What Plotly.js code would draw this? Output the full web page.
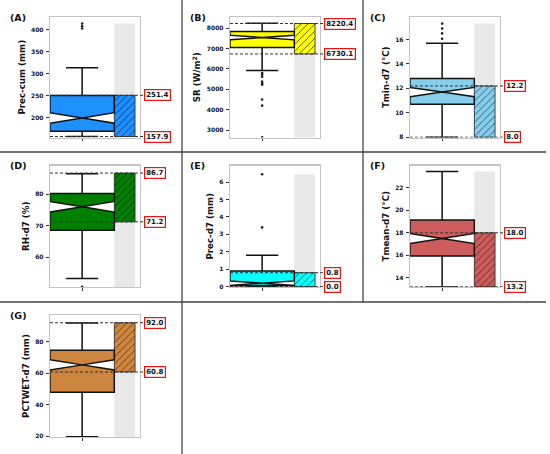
<!DOCTYPE html>
<html>
<head>
<meta charset="utf-8">
<script src="https://cdn.plot.ly/plotly-3.0.1.min.js"></script>
<style>html,body{margin:0;padding:0;background:#fff;}#chart{width:550px;height:454px;}</style>
</head>
<body>
<div id="chart"></div>
<script>
// ---------- data ----------
const panelLabels = ['(A)', '(B)', '(C)', '(D)', '(E)', '(F)', '(G)'];
const yTitles = ['Prec-cum (mm)', 'SR (W/m<sup>2</sup>)', 'Tmin-d7 (°C)', 'RH-d7 (%)', 'Prec-d7 (mm)', 'Tmean-d7 (°C)', 'PCTWET-d7 (mm)'];
const boxColors = ['#1E90FF', '#FFFF00', '#87CEEB', '#008000', '#00FFFF', '#CD5C5C', '#CD853F'];
const q1Vals = [170, 7050, 10.7, 68.5, 0.05, 15.95, 48];
const medianVals = [200, 7535, 11.7, 76, 0.2, 17.5, 65.3];
const q3Vals = [251, 7830, 12.8, 80.2, 0.9, 19.15, 74.5];
const notchSpans = [12, 115, 0.38, 1.7, 0.13, 0.45, 3.2];
const lowerWhiskers = [158, 5915, 8.0, 53.2, 0.0, 13.2, 19.8];
const upperWhiskers = [314, 8230, 15.7, 86.5, 1.8, 23.45, 91.8];
const outliersA = [403, 408, 414];
const outliersB = [5800, 5720, 5620, 5380, 5300, 5220, 4500, 4200, 2650];
const outliersC = [16.06, 16.5, 16.9, 17.3];
const outliersD = [50.6];
const outliersE = [3.4, 6.45];
const outliersF = [];
const outliersG = [];
const thresholdLow = [157.9, 6730.1, 8.0, 71.2, 0.0, 13.2, 60.8];
const thresholdHigh = [251.4, 8220.4, 12.2, 86.7, 0.8, 18.0, 92.0];
const dataMax = [414, 8230, 17.3, 86.7, 6.45, 23.45, 92];
const yMin = [155.7, 2640, 7.98, 50.5, -0.02, 13.19, 19.6];
const yMax = [429, 8540, 17.84, 89.1, 6.95, 23.98, 96.9];
const yDtick = [50, 1000, 2, 10, 1, 2, 20];
const thresholdLabelsLow = ['157.9', '6730.1', '8.0', '71.2', '0.0', '13.2', '60.8'];
const thresholdLabelsHigh = ['251.4', '8220.4', '12.2', '86.7', '0.8', '18.0', '92.0'];

// ---------- layout geometry (pixels) ----------
const W = 550, H = 454;
const cellX = [[50, 140], [230, 320], [410, 500]];
const cellY = [[17, 137.5], [165.5, 287], [315, 437]];
const boxCenter = 0.357, boxWidth = 0.715;
const barCenter = 0.83, barWidth = 0.23;

const allOutliers = [outliersA, outliersB, outliersC, outliersD, outliersE, outliersF, outliersG];
const hatchFg = ['#0a2a66', '#333300', '#1d4a66', '#002a00', '#005a66', '#5a1a1a', '#5a3010'];

const traces = [];
const layout = {
  width: W, height: H,
  margin: {l: 0, r: 0, t: 0, b: 0},
  paper_bgcolor: '#fff', plot_bgcolor: '#fff',
  showlegend: false,
  barmode: 'overlay',
  boxmode: 'overlay',
  font: {family: 'DejaVu Sans', color: '#000'},
  shapes: [], annotations: []
};

for (let i = 0; i < 7; i++) {
  const row = Math.floor(i / 3), col = i % 3;
  const n = i + 1;
  const xa = n === 1 ? 'x' : 'x' + n;
  const ya = n === 1 ? 'y' : 'y' + n;
  const xk = n === 1 ? 'xaxis' : 'xaxis' + n;
  const yk = n === 1 ? 'yaxis' : 'yaxis' + n;
  const px = cellX[col], py = cellY[row];

  // grey background bar (axis bottom to data max)
  traces.push({
    type: 'bar', x: [barCenter], y: [dataMax[i] - yMin[i]], base: [yMin[i]], width: [barWidth],
    xaxis: xa, yaxis: ya, marker: {color: '#e8e8e8', line: {width: 0}}, hoverinfo: 'skip'
  });
  // hatched threshold bar
  traces.push({
    type: 'bar', x: [barCenter], y: [thresholdHigh[i] - thresholdLow[i]], base: [thresholdLow[i]], width: [barWidth],
    xaxis: xa, yaxis: ya,
    marker: {color: boxColors[i], line: {color: '#222', width: 0.8},
      pattern: {shape: '/', fgcolor: hatchFg[i], bgcolor: boxColors[i], size: 5, solidity: 0.16}},
    hoverinfo: 'skip'
  });
  // notched box
  traces.push({
    type: 'box', x: [boxCenter], q1: [q1Vals[i]], median: [medianVals[i]], q3: [q3Vals[i]],
    lowerfence: [lowerWhiskers[i]], upperfence: [upperWhiskers[i]], notchspan: [notchSpans[i]],
    notched: true, notchwidth: 0.5, width: boxWidth, whiskerwidth: 0.5, boxpoints: false,
    xaxis: xa, yaxis: ya, fillcolor: boxColors[i], line: {color: '#111', width: 1.5}, hoverinfo: 'skip'
  });
  // outliers
  if (allOutliers[i].length) {
    traces.push({
      type: 'scatter', mode: 'markers', x: allOutliers[i].map(() => boxCenter), y: allOutliers[i],
      xaxis: xa, yaxis: ya, marker: {color: '#222', size: 2.6}, hoverinfo: 'skip', cliponaxis: true
    });
  }

  layout[xk] = {
    domain: [px[0] / W, px[1] / W], anchor: ya, range: [0, 1], fixedrange: true,
    showgrid: false, zeroline: false, showline: true, mirror: true, linecolor: '#c4c4c4', linewidth: 1.3,
    tickvals: [boxCenter], showticklabels: false, ticks: 'outside', ticklen: 2.5, tickcolor: '#333', tickwidth: 1
  };
  layout[yk] = {
    domain: [1 - py[1] / H, 1 - py[0] / H], anchor: xa, range: [yMin[i], yMax[i]], fixedrange: true,
    showgrid: false, zeroline: false, showline: true, mirror: true, linecolor: '#c4c4c4', linewidth: 1.3,
    ticks: 'outside', ticklen: 3, tickcolor: '#333', tickwidth: 1, tick0: 0, dtick: yDtick[i],
    tickfont: {family: 'DejaVu Sans', size: 6, weight: 'bold', color: '#111'}, ticklabelstandoff: 1,
    title: {text: yTitles[i], font: {family: 'DejaVu Sans', size: 8.7, weight: 'bold', color: '#111'}, standoff: 4}
  };

  // dashed threshold lines and labels
  [thresholdLow[i], thresholdHigh[i]].forEach((v, k) => {
    layout.shapes.push({
      type: 'line', xref: 'paper', yref: ya, x0: px[0] / W, x1: (px[1] + 4) / W, y0: v, y1: v,
      line: {color: '#333', width: 1, dash: '3px,2px'}, layer: 'above'
    });
    layout.annotations.push({
      xref: 'paper', yref: ya, x: (px[1] + 4) / W, y: v, xanchor: 'left', yanchor: 'middle',
      text: k === 0 ? thresholdLabelsLow[i] : thresholdLabelsHigh[i], showarrow: false,
      font: {family: 'DejaVu Sans', size: 7, weight: 'bold', color: '#111'},
      bgcolor: '#fff', bordercolor: '#ee1111', borderwidth: 1.2, borderpad: 1
    });
  });

  // panel label
  layout.annotations.push({
    xref: 'paper', yref: 'paper', x: (col * 180 + 8) / W, y: 1 - (py[0] + 0.5) / H,
    xanchor: 'left', yanchor: 'middle', text: panelLabels[i], showarrow: false,
    font: {family: 'DejaVu Sans', size: 9.5, weight: 'bold', color: '#111'}
  });
}

// panel separator lines
const sepColor = '#444';
layout.shapes.push({type: 'line', xref: 'paper', yref: 'paper', x0: 182 / W, x1: 182 / W, y0: 0, y1: 1, line: {color: sepColor, width: 1.3}});
layout.shapes.push({type: 'line', xref: 'paper', yref: 'paper', x0: 363 / W, x1: 363 / W, y0: 1 - 302 / H, y1: 1, line: {color: sepColor, width: 1.3}});
layout.shapes.push({type: 'line', xref: 'paper', yref: 'paper', x0: 0, x1: 546 / W, y0: 1 - 152 / H, y1: 1 - 152 / H, line: {color: sepColor, width: 1.3}});
layout.shapes.push({type: 'line', xref: 'paper', yref: 'paper', x0: 0, x1: 546 / W, y0: 1 - 302 / H, y1: 1 - 302 / H, line: {color: sepColor, width: 1.3}});

Plotly.newPlot('chart', traces, layout, {displayModeBar: false, staticPlot: true});
</script>
</body>
</html>
